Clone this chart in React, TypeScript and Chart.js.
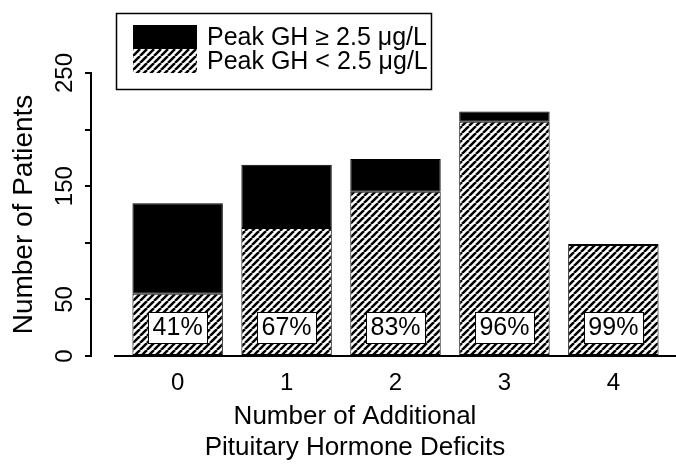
import React, { useEffect, useRef } from 'react';
import { Chart, registerables } from 'chart.js';

Chart.register(...registerables);

// ---- data ----
const categories = ['0', '1', '2', '3', '4'];
const lowGH = [55, 113, 145, 207, 98]; // Peak GH < 2.5 μg/L (hatched)
const highGH = [80, 56, 29, 9, 1]; // Peak GH ≥ 2.5 μg/L (black)
const pctLabels = ['41%', '67%', '83%', '96%', '99%'];
const yTicks = [0, 50, 100, 150, 200, 250];
const yLabelled = [0, 50, 150, 250];
const legendLabels = ['Peak GH ≥ 2.5 μg/L', 'Peak GH < 2.5 μg/L'];
const xTitle = ['Number of Additional', 'Pituitary Hormone Deficits'];
const yTitle = 'Number of Patients';

const FONT = '"Liberation Sans", Arial, Helvetica, sans-serif';

function makeHatch(): CanvasPattern | string {
  const w = 7;
  const h = 7;
  const c = document.createElement('canvas');
  c.width = w;
  c.height = h;
  const g = c.getContext('2d');
  if (!g) return '#888';
  g.fillStyle = '#fff';
  g.fillRect(0, 0, w, h);
  g.strokeStyle = '#000';
  g.lineWidth = 2.5;
  g.beginPath();
  for (let k = -1; k <= 1; k++) {
    g.moveTo(k * w, h);
    g.lineTo(k * w + w, 0);
  }
  g.stroke();
  const p = g.createPattern(c, 'repeat');
  return p || '#888';
}

const legendPlugin = {
  id: 'boxLegend',
  afterDraw(chart: any) {
    const ctx = chart.ctx as CanvasRenderingContext2D;
    const ds = chart.data.datasets;
    const order = [1, 0];
    ctx.save();
    ctx.strokeStyle = '#000';
    ctx.lineWidth = 1.5;
    ctx.strokeRect(116.5, 13.5, 315, 76);
    ctx.font = `25px ${FONT}`;
    ctx.textAlign = 'left';
    ctx.textBaseline = 'middle';
    order.forEach((di, k) => {
      const top = 25 + k * 24;
      ctx.fillStyle = ds[di].backgroundColor;
      ctx.fillRect(133, top, 64, 24);
      ctx.fillStyle = '#000';
      ctx.fillText(ds[di].label, 207, top + 13);
    });
    ctx.restore();
  },
};

const pctPlugin = {
  id: 'pctBoxes',
  afterDatasetsDraw(chart: any) {
    const ctx = chart.ctx as CanvasRenderingContext2D;
    const meta = chart.getDatasetMeta(0);
    const cy = chart.chartArea.bottom - 28.5;
    ctx.save();
    ctx.font = `25px ${FONT}`;
    ctx.textAlign = 'center';
    ctx.textBaseline = 'middle';
    meta.data.forEach((bar: any, i: number) => {
      const txt = pctLabels[i];
      const w = Math.round(ctx.measureText(txt).width + 9);
      const h = 31;
      const x0 = Math.round(bar.x - w / 2) + 0.5;
      const y0 = Math.round(cy - h / 2) + 0.5;
      ctx.fillStyle = '#fff';
      ctx.fillRect(x0, y0, w, h);
      ctx.strokeStyle = '#000';
      ctx.lineWidth = 1;
      ctx.strokeRect(x0, y0, w, h);
      ctx.fillStyle = '#000';
      ctx.fillText(txt, bar.x, cy + 1);
    });
    ctx.restore();
  },
};

const xTitlePlugin = {
  id: 'xTitleLines',
  afterDraw(chart: any) {
    const ctx = chart.ctx as CanvasRenderingContext2D;
    const xs = chart.scales.x;
    const cx = chart.chartArea.left + 240;
    ctx.save();
    ctx.font = `26px ${FONT}`;
    ctx.fillStyle = '#000';
    ctx.textAlign = 'center';
    ctx.textBaseline = 'middle';
    xTitle.forEach((line, k) => {
      ctx.fillText(line, cx, xs.bottom - 50 + k * 31);
    });
    ctx.restore();
  },
};

export default function App() {
  const ref = useRef<HTMLCanvasElement | null>(null);

  useEffect(() => {
    if (!ref.current) return;
    const hatch = makeHatch();
    const chart = new Chart(ref.current, {
      type: 'bar',
      data: {
        datasets: [
          {
            label: legendLabels[1],
            data: lowGH.map((v, i) => ({ x: i, y: v })),
            backgroundColor: hatch as any,
            borderColor: '#000',
            borderWidth: 1,
            borderSkipped: false,
          },
          {
            label: legendLabels[0],
            data: highGH.map((v, i) => ({ x: i, y: v })),
            backgroundColor: '#000',
            borderColor: '#000',
            borderWidth: 1,
            borderSkipped: false,
          },
        ],
      },
      options: {
        responsive: false,
        animation: false,
        events: [],
        layout: { padding: { top: 73, left: 0, right: 0, bottom: 0 } },
        datasets: { bar: { categoryPercentage: 1, barPercentage: 0.83 } },
        plugins: { legend: { display: false }, tooltip: { enabled: false } },
        scales: {
          x: {
            type: 'linear',
            position: 'bottom',
            min: -0.575,
            max: 4.575,
            offset: false,
            stacked: true,
            afterBuildTicks: (s: any) => {
              s.ticks = categories.map((_, i) => ({ value: i }));
            },
            ticks: {
              callback: (v: any) => categories[v],
              font: { family: FONT, size: 24 },
              color: '#000',
              padding: 13,
              autoSkip: false,
              maxRotation: 0,
              minRotation: 0,
            },
            grid: { display: false, drawTicks: false, offset: false },
            border: { display: true, color: '#000', width: 2 },
            afterFit: (s: any) => {
              s.height = 111;
            },
          },
          y: {
            type: 'linear',
            position: 'left',
            min: 0,
            max: 250,
            stacked: true,
            weight: 10,
            afterBuildTicks: (s: any) => {
              s.ticks = yTicks.map((v) => ({ value: v }));
            },
            ticks: {
              callback: (v: any) => (yLabelled.includes(v) ? String(v) : ''),
              minRotation: 90,
              maxRotation: 90,
              crossAlign: 'center',
              padding: 0,
              autoSkip: false,
              font: { family: FONT, size: 24 },
              color: '#000',
            },
            grid: { drawOnChartArea: false, drawTicks: true, tickLength: 6, color: '#000', lineWidth: 2 },
            border: { display: true, color: '#000', width: 2 },
            title: {
              display: true,
              text: yTitle,
              font: { family: FONT, size: 28 },
              color: '#000',
              padding: { top: 7, bottom: 0 },
            },
            afterFit: (s: any) => {
              s.width = 91;
            },
          },
          gap: {
            type: 'linear',
            position: 'left',
            weight: 0,
            display: true,
            ticks: { display: false },
            grid: { display: false },
            border: { display: false },
            afterFit: (s: any) => {
              s.width = 24;
            },
          },
        },
      } as any,
      plugins: [pctPlugin, legendPlugin, xTitlePlugin],
    });
    return () => chart.destroy();
  }, []);

  return (
    <div style={{ position: 'fixed', left: 0, top: 0, width: 676, height: 467, background: '#fff' }}>
      <canvas ref={ref} width={676} height={467} style={{ display: 'block', width: 676, height: 467 }} />
    </div>
  );
}
